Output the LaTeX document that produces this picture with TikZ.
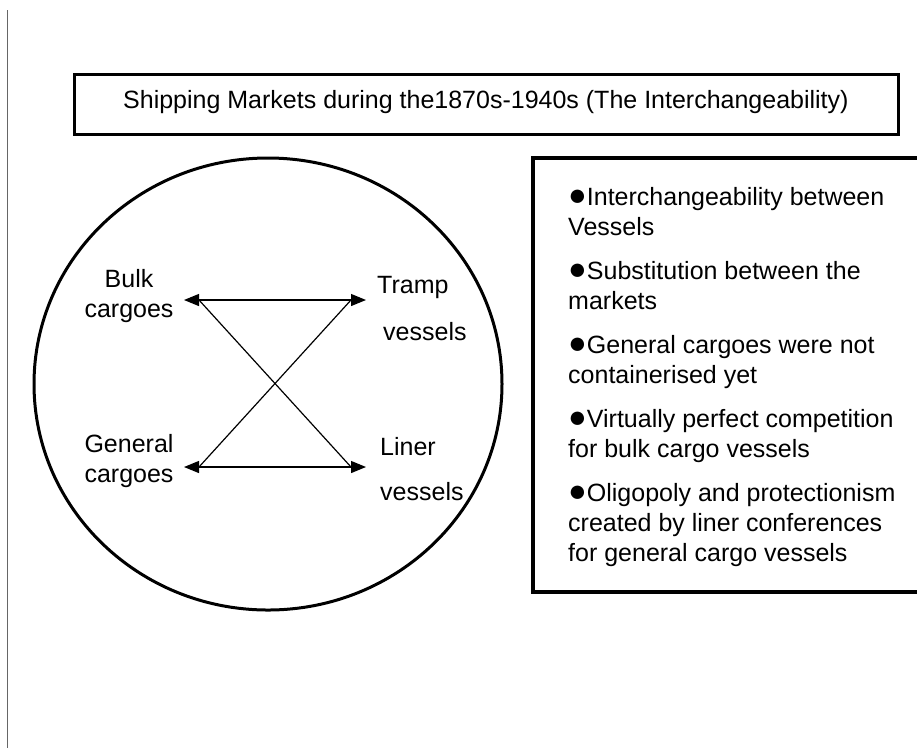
\documentclass[tikz,border=0pt]{standalone}
\usepackage{fontspec}
\setmainfont{Liberation Sans}
\usetikzlibrary{arrows.meta}
\newcommand{\bigblt}{{\fontsize{31}{30}\selectfont ●}}
\begin{document}
\begin{tikzpicture}[x=1pt,y=-1pt,
  lbl/.style={font=\fontsize{25}{30}\selectfont, inner sep=0pt, align=left},
  thickbox/.style={draw, line width=3.2pt},
  conn/.style={line width=1.2pt},
  tip/.style={-{Triangle[length=15pt,width=12pt]}}]
\useasboundingbox (0,0) rectangle (917,748);
% left vertical rule
\draw[gray!80!black, line width=1pt] (7,10) -- (7,748);
% title
\node[thickbox, minimum width=824pt, minimum height=60pt, anchor=north west] (title) at (73,73) {};
\node[lbl, anchor=west] (titletext) at (123,102) {Shipping Markets during the1870s-1940s (The Interchangeability)};
% circle
\draw[line width=3pt] (268,384) ellipse [x radius=234, y radius=226];
% labels
\node[lbl, align=center] (bulk) at (129,296) {Bulk\\cargoes};
\node[lbl, align=center] (gen) at (129,461) {General\\cargoes};
\node[lbl, anchor=west] (tramp) at (377,287) {Tramp};
\node[lbl, anchor=west] (tv) at (383,332) {vessels};
\node[lbl, anchor=west] (liner) at (380,447) {Liner};
\node[lbl, anchor=west] (lv) at (380,492) {vessels};
% arrow end points
\coordinate (bl) at (184,300);
\coordinate (tr) at (366,300);
\coordinate (gl) at (184,467);
\coordinate (lr) at (366,467);
\coordinate (blb) at (199,300);
\coordinate (trb) at (351,300);
\coordinate (glb) at (199,467);
\coordinate (lrb) at (351,467);
\draw[conn, tip] (blb) -- (bl);
\draw[conn, tip] (trb) -- (tr);
\draw[conn, tip] (glb) -- (gl);
\draw[conn, tip] (lrb) -- (lr);
\draw[conn] (blb) -- (trb);
\draw[conn] (glb) -- (lrb);
\draw[conn] (blb) -- (lrb);
\draw[conn] (glb) -- (trb);
% right box
\draw[line width=3.2pt] (940,158) -- (533,158) -- (533,592) -- (940,592);
\node[lbl, anchor=north west] (points) at (568,187) {%
\bigblt Interchangeability between\\Vessels\\[14pt]
\bigblt Substitution between the\\markets\\[14pt]
\bigblt General cargoes were not\\containerised yet\\[14pt]
\bigblt Virtually perfect competition\\for bulk cargo vessels\\[14pt]
\bigblt Oligopoly and protectionism\\created by liner conferences\\for general cargo vessels};
\end{tikzpicture}
\end{document}
